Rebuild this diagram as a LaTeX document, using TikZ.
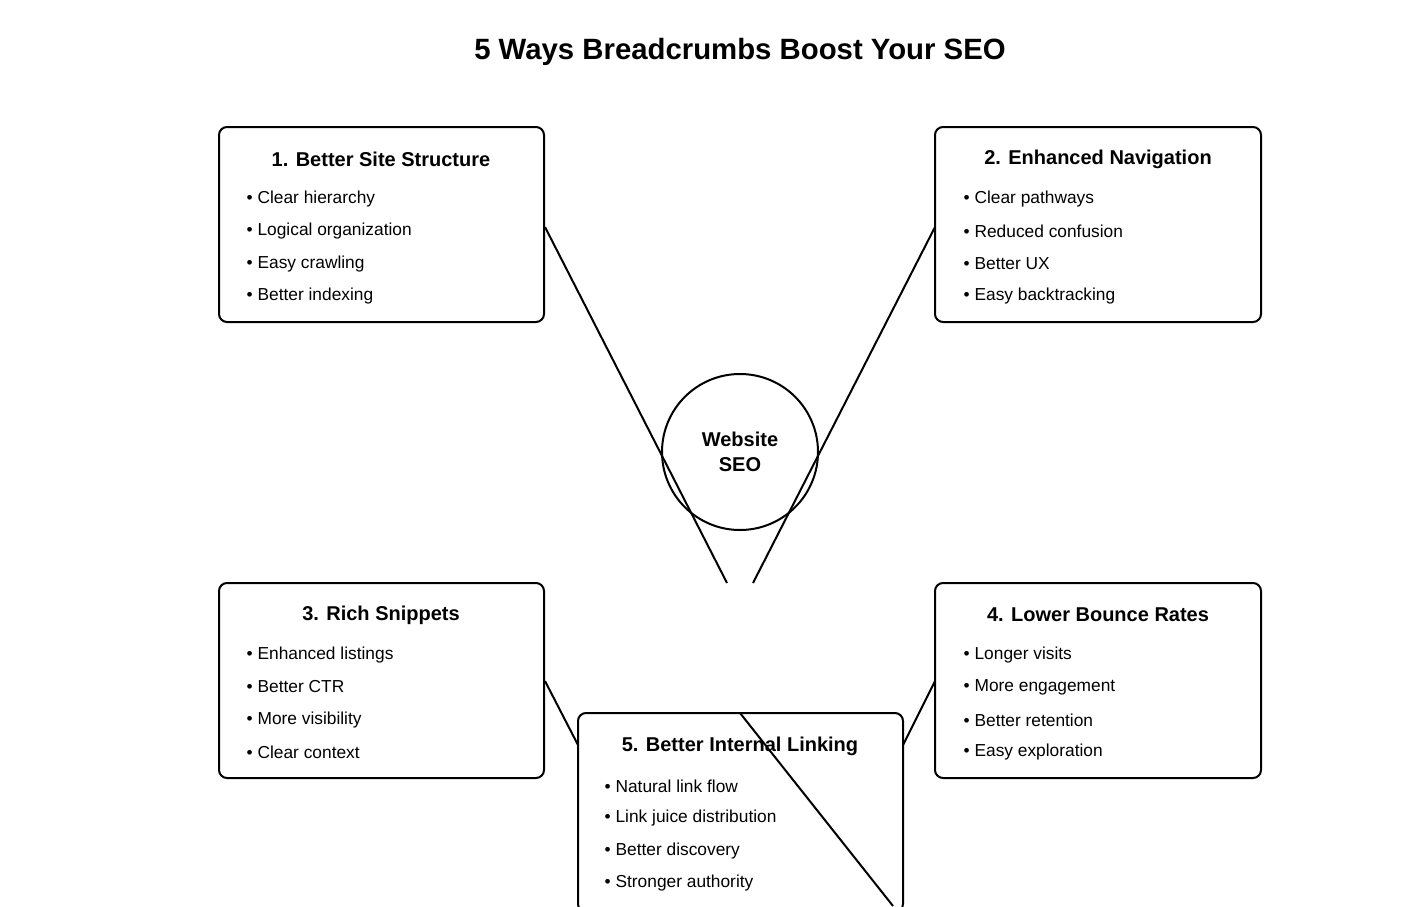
\documentclass[tikz,border=0pt]{standalone}
\usepackage{fontspec}
\setmainfont{Liberation Sans}
\begin{document}
\begin{tikzpicture}[x=0.75pt,y=-0.75pt,
  box/.style={draw,line width=1.5pt,rounded corners=6pt},
  ttl/.style={font=\fontsize{15}{18}\selectfont\bfseries,anchor=center},
  itm/.style={font=\fontsize{13}{16}\selectfont,anchor=west},
  con/.style={line width=1.5pt}]
\useasboundingbox (0,0) rectangle (1416,906);
\node[font=\fontsize{22}{26}\selectfont\bfseries] (title) at (740,52) {5 Ways Breadcrumbs Boost Your SEO};
% boxes
\draw[box] (219,127) rectangle (544,322);
\draw[box] (935,127) rectangle (1261,322);
\draw[box] (219,583) rectangle (544,778);
\draw[box] (935,583) rectangle (1261,778);
\draw[box] (578,713) rectangle (903,912);
\node[circle,draw,line width=1.5pt,minimum size=156pt*0.75,align=center,font=\fontsize{15}{19}\selectfont\bfseries] (c) at (740,452) {Website\\SEO};
% connectors
\coordinate (a1) at (545,227); \coordinate (a2) at (727,583);
\coordinate (b1) at (935,227); \coordinate (b2) at (753,583);
\coordinate (c1) at (545,681); \coordinate (c2) at (578,745);
\coordinate (d1) at (935,681); \coordinate (d2) at (903,745);
\coordinate (e1) at (740,713); \coordinate (e2) at (893,906);
\draw[con] (a1)--(a2); \draw[con] (b1)--(b2);
\draw[con] (c1)--(c2); \draw[con] (d1)--(d2);
\draw[con] (e1)--(e2);
% texts
\node[ttl] (t1) at (381,159) {1. Better Site Structure};
\node[itm] (i11) at (242,199) {• Clear hierarchy};
\node[itm] (i12) at (242,231) {• Logical organization};
\node[itm] (i13) at (242,264) {• Easy crawling};
\node[itm] (i14) at (242,296) {• Better indexing};
\node[ttl] (t2) at (1098,159) {2. Enhanced Navigation};
\node[itm] (i21) at (959,199) {• Clear pathways};
\node[itm] (i22) at (959,231) {• Reduced confusion};
\node[itm] (i23) at (959,264) {• Better UX};
\node[itm] (i24) at (959,296) {• Easy backtracking};
\node[ttl] (t3) at (381,615) {3. Rich Snippets};
\node[itm] (i31) at (242,655) {• Enhanced listings};
\node[itm] (i32) at (242,687) {• Better CTR};
\node[itm] (i33) at (242,720) {• More visibility};
\node[itm] (i34) at (242,752) {• Clear context};
\node[ttl] (t4) at (1098,615) {4. Lower Bounce Rates};
\node[itm] (i41) at (959,655) {• Longer visits};
\node[itm] (i42) at (959,687) {• More engagement};
\node[itm] (i43) at (959,720) {• Better retention};
\node[itm] (i44) at (959,752) {• Easy exploration};
\node[ttl] (t5) at (740,746) {5. Better Internal Linking};
\node[itm] (i51) at (600,786) {• Natural link flow};
\node[itm] (i52) at (600,818) {• Link juice distribution};
\node[itm] (i53) at (600,851) {• Better discovery};
\node[itm] (i54) at (600,883) {• Stronger authority};
\end{tikzpicture}
\end{document}
